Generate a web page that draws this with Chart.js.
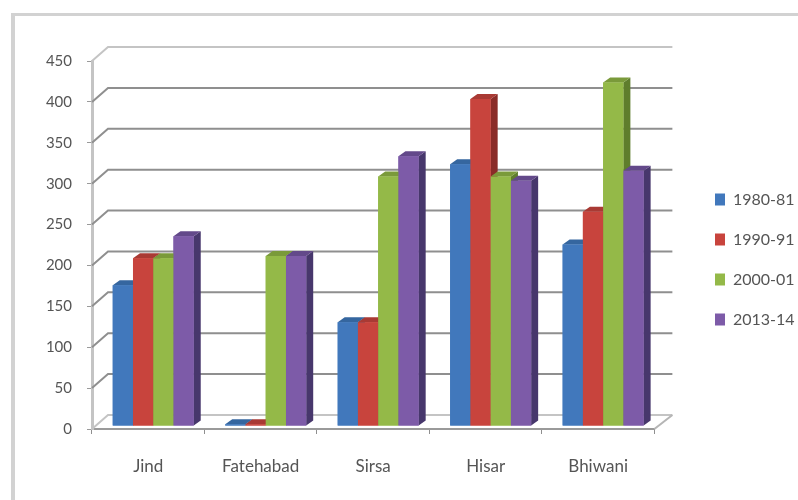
<!DOCTYPE html>
<html>
<head>
<meta charset="utf-8">
<style>
    html, body { margin: 0; padding: 0; background: #fff; }
    #wrap { position: relative; width: 798px; height: 500px; overflow: hidden; }
    #frame { position: absolute; left: 11px; top: 13px; width: 800px; height: 500px; border-top: 3px solid #d2d2d2; border-left: 4px solid #d2d2d2; }
    canvas { position: absolute; left: 0; top: 0; }
</style>
</head>
<body>
<div id="wrap">
    <div id="frame"></div>
    <canvas id="districtChart" width="798" height="500"></canvas>
</div>
<script src="https://cdn.jsdelivr.net/npm/chart.js@4"></script>
<script>
const districts = ['Jind', 'Fatehabad', 'Sirsa', 'Hisar', 'Bhiwani'];
const yearLabels = ['1980-81', '1990-91', '2000-01', '2013-14'];
const values1980 = [172, 2, 127, 320, 222];
const values1990 = [205, 2, 127, 400, 262];
const values2000 = [205, 208, 305, 305, 420];
const values2013 = [232, 208, 330, 300, 312];
const yMax = 450;
const yStep = 50;

const frontColors = ['#4178bc', '#c8443d', '#94b948', '#7d5ba8'];
const sideColors = ['#2c5486', '#8a2c28', '#5f7d2c', '#47376c'];
const topColors = ['#35669f', '#a93a34', '#7a9a3a', '#63498a'];

// walls sit behind the bars, bars sit a little in from the front edge
const wallDx = 16, wallDy = 14;
const barDx = 5, barDy = 3;
const depthDx = 7, depthDy = 5;

const fake3d = {
    id: 'fake3d',
    afterLayout(chart) {
        // legend keeps its own spot, away from the plot
        const legend = chart.legend;
        legend.left = 691;
        legend.right = 798;
        legend.top -= 21;
        legend.bottom -= 21;
    },
    beforeDatasetsDraw(chart) {
        const ctx = chart.ctx;
        const y = chart.scales.y, area = chart.chartArea;
        ctx.save();
        ctx.lineWidth = 2;
        y.ticks.forEach(t => {
            const py = y.getPixelForValue(t.value);
            ctx.strokeStyle = t.value === yMax || t.value === 0 ? '#c4c4c4' : '#8f8f8f';
            ctx.beginPath();
            ctx.moveTo(area.left, py);
            ctx.lineTo(area.left + wallDx, py - wallDy);
            ctx.lineTo(area.right + wallDx + 2, py - wallDy);
            ctx.stroke();
        });
        // floor edge on the right
        ctx.strokeStyle = '#b5b5b5';
        ctx.beginPath();
        ctx.moveTo(area.right, area.bottom);
        ctx.lineTo(area.right + wallDx + 2, area.bottom - wallDy);
        ctx.stroke();
        ctx.restore();
        ctx.save();
        ctx.translate(barDx, -barDy);
    },
    afterDatasetsDraw(chart) {
        const ctx = chart.ctx;
        // redraw left to right so each bar covers the side of the one before it
        districts.forEach((d, i) => {
            chart.data.datasets.forEach((ds, k) => {
                const bar = chart.getDatasetMeta(k).data[i];
                const l = bar.x - bar.width / 2, r = bar.x + bar.width / 2;
                ctx.fillStyle = sideColors[k];
                ctx.beginPath();
                ctx.moveTo(r, bar.y);
                ctx.lineTo(r + depthDx, bar.y - depthDy);
                ctx.lineTo(r + depthDx, bar.base - depthDy);
                ctx.lineTo(r, bar.base);
                ctx.closePath();
                ctx.fill();
                ctx.fillStyle = topColors[k];
                ctx.beginPath();
                ctx.moveTo(l, bar.y);
                ctx.lineTo(l + depthDx, bar.y - depthDy);
                ctx.lineTo(r + depthDx, bar.y - depthDy);
                ctx.lineTo(r, bar.y);
                ctx.closePath();
                ctx.fill();
                bar.draw(ctx);
            });
        });
        ctx.restore();
    }
};

const seriesValues = [values1980, values1990, values2000, values2013];

new Chart(document.getElementById('districtChart'), {
    type: 'bar',
    data: {
        labels: districts,
        datasets: yearLabels.map((label, k) => ({
            label: label,
            data: seriesValues[k],
            backgroundColor: frontColors[k],
            categoryPercentage: 0.72,
            barPercentage: 1
        }))
    },
    options: {
        responsive: false,
        animation: false,
        layout: { padding: { top: 61, right: 30 } },
        plugins: {
            tooltip: { enabled: false },
            legend: {
                position: 'right',
                labels: {
                    boxWidth: 10,
                    boxHeight: 12,
                    padding: 24,
                    color: '#555',
                    font: { family: 'Lato', size: 16 }
                }
            }
        },
        scales: {
            x: {
                afterFit(s) { s.height = 71; },
                grid: { drawOnChartArea: false, tickLength: 5, color: '#8f8f8f' },
                border: { color: '#9a9a9a', width: 2 },
                ticks: { color: '#555', padding: 22, font: { family: 'Lato', size: 17 }, maxRotation: 0 }
            },
            y: {
                min: 0,
                max: yMax,
                afterFit(s) { s.width = 92; },
                grid: { drawOnChartArea: false, tickLength: 5, color: '#9a9a9a' },
                border: { color: '#c4c4c4', width: 3 },
                ticks: { stepSize: yStep, color: '#555', padding: 15, font: { family: 'Lato', size: 15 } }
            }
        }
    },
    plugins: [fake3d]
});
</script>
</body>
</html>
